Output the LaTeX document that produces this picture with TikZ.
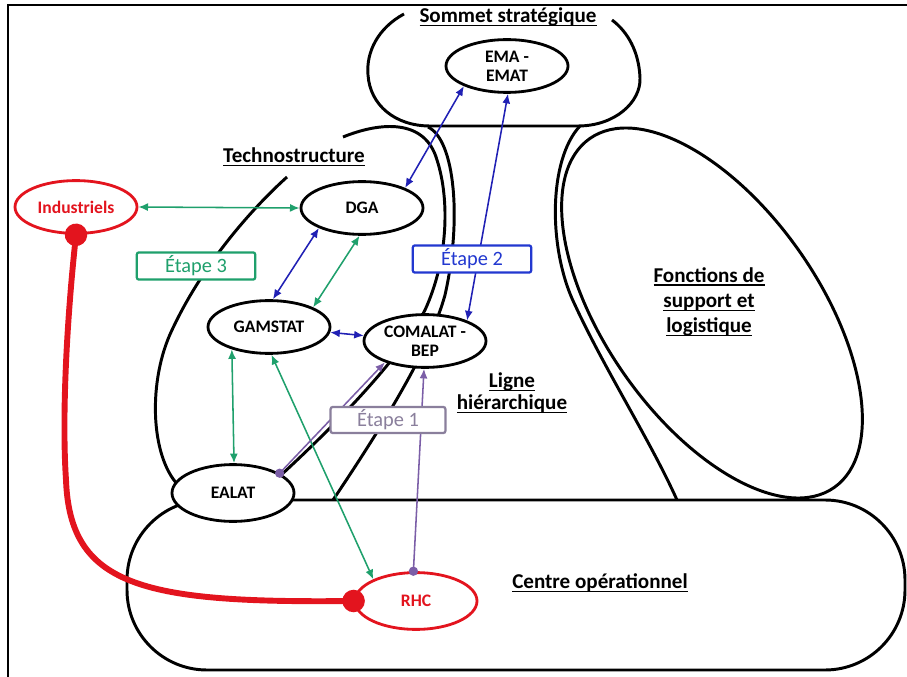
\documentclass[tikz,border=0pt]{standalone}
\usepackage{fontspec}
\setmainfont{Carlito}
\usetikzlibrary{arrows.meta,shapes.geometric}
\definecolor{orgred}{HTML}{E3141E}
\definecolor{stepgreen}{HTML}{1FA06C}
\definecolor{stepblue}{HTML}{2238D0}
\definecolor{linkblue}{HTML}{2020B4}
\definecolor{steppurple}{HTML}{7B5EA7}
\definecolor{stepgrey}{HTML}{8A7F9C}
\newsavebox\ulbox
\newcommand{\ulabel}[1]{\sbox\ulbox{#1}\rlap{\rule[-2.4pt]{\wd\ulbox}{1pt}}\usebox\ulbox}

\begin{document}
\begin{tikzpicture}[x=0.25mm,y=-0.25mm,
  zone/.style={line width=2.1pt},
  unit/.style={ellipse,draw,line width=2pt,fill=white,minimum width=30.5mm,minimum height=13.2mm,inner sep=0pt,align=center,font=\bfseries\fontsize{12.5}{13.5}\selectfont},
  outside/.style={unit,draw=orgred,text=orgred},
  title/.style={align=center,font=\bfseries\fontsize{15}{18}\selectfont},
  stepbox/.style={draw,fill=white,line width=1.6pt,rounded corners=1.5pt,minimum width=29.6mm,minimum height=6.8mm,inner sep=0pt,font=\fontsize{14.5}{17}\selectfont},
  link/.style={{Latex[length=2.4mm,width=2mm]}-{Latex[length=2.4mm,width=2mm]},line width=1.1pt},
  push/.style={{Circle[length=2.3mm]}-{Latex[length=2.4mm,width=2mm]},line width=1.1pt,steppurple,shorten <=-1.15mm}
]
  \useasboundingbox (0,0) rectangle (907,677);
  \draw[line width=1.4pt] (8,677) -- (8,5) -- (907,5);

  % les cinq parties
  \draw[zone,rounded corners=20mm] (127,500) rectangle (905,670);
  \draw[zone] (404,14) .. controls (378,28) and (366,52) .. (368,75) .. controls (370,105) and (395,126) .. (430,126) -- (578,126) .. controls (615,126) and (641,102) .. (640,78) .. controls (639,52) and (628,32) .. (612,20);
  \draw[zone] (287,177) .. controls (245,215) and (200,270) .. (172,330) .. controls (148,380) and (150,455) .. (178,485) -- (233,493) -- (280,476) .. controls (330,430) and (400,360) .. (425,310) .. controls (448,260) and (450,200) .. (437,160) .. controls (425,118) and (380,122) .. (343,137);
  \draw[zone] (428,127) .. controls (455,140) and (462,220) .. (445,295) .. controls (430,350) and (380,430) .. (333,500);
  \draw[zone] (580,126) .. controls (548,160) and (548,250) .. (575,305) .. controls (605,370) and (650,440) .. (677,500);
  \draw[zone,rotate around={-55:(712,313)}] (712,313) ellipse [x radius=213,y radius=107];

  \node[title] (sommet) at (508,17) {\ulabel{Sommet stratégique}};
  \node[title] (techno) at (294,157) {\ulabel{Technostructure}};
  \node[title,font=\bfseries\fontsize{15}{15.5}\selectfont] (ligne) at (512,393) {\ulabel{Ligne}\\\ulabel{hiérarchique}};
  \node[title] (support) at (709,302) {\ulabel{Fonctions de}\\\ulabel{support et}\\\ulabel{logistique}};
  \node[title] (centre) at (600,583) {\ulabel{Centre opérationnel}};

  \node[unit] (ema) at (507,66) {EMA -\\EMAT};
  \node[unit] (dga) at (362,208) {DGA};
  \node[unit] (gam) at (269,327) {GAMSTAT};
  \node[unit] (com) at (425,341) {COMALAT -\\BEP};
  \node[unit,minimum height=14.2mm] (ealat) at (233,493) {EALAT};
  \node[outside] (ind) at (76,207) {Industriels};
  \node[outside,minimum height=14.2mm] (rhc) at (416,601) {RHC};

  \draw[orgred,line width=4.2pt,{Circle[length=5.6mm]}-{Circle[length=5.6mm]},shorten <=-2.8mm,shorten >=-2.8mm] (ind.south) .. controls (66,330) and (62,420) .. (66,480) .. controls (70,585) and (140,603) .. (rhc.west);

  \draw[link,stepgreen] (ind.east) -- (dga.west);
  \draw[link,stepgreen] (dga.-95) -- (gam.24);
  \draw[link,stepgreen] (gam.211) -- (ealat.88);
  \draw[link,stepgreen] (gam.-85) -- (rhc.153);

  \draw[link,linkblue] (ema.205) -- (dga.25);
  \draw[link,linkblue] (ema.-88) -- (com.26);
  \draw[link,linkblue] (dga.205) -- (gam.82);
  \draw[link,linkblue] (gam.-5) -- (com.175);

  \draw[push] (ealat.23) -- (com.208);
  \draw[push] (rhc.95) -- (com.-92);

  \node[stepbox,draw=stepgreen,text=stepgreen] (etape3) at (196,266) {Étape 3};
  \node[stepbox,draw=stepblue,text=stepblue] (etape2) at (472,259) {Étape 2};
  \node[stepbox,draw=stepgrey,text=stepgrey,minimum width=28.7mm,minimum height=6.5mm] (etape1) at (388,420) {Étape 1};
\end{tikzpicture}
\end{document}
